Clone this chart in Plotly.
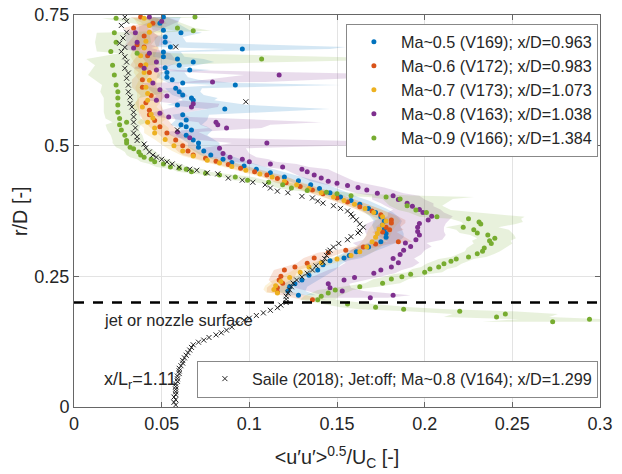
import plotly.graph_objects as go

# ---------------- data (r/D, u_rms/Uc, band below, band above) ----------------
ma05 = [
    (0.746, 0.051, 0.006, 0.010), (0.734, 0.049, 0.006, 0.010), (0.721, 0.051, 0.006, 0.015),
    (0.716, 0.061, 0.008, 0.012), (0.708, 0.052, 0.006, 0.010), (0.698, 0.052, 0.006, 0.012),
    (0.689, 0.055, 0.008, 0.100), (0.685, 0.096, 0.010, 0.050), (0.679, 0.051, 0.006, 0.010),
    (0.670, 0.051, 0.006, 0.012), (0.666, 0.059, 0.006, 0.015), (0.660, 0.068, 0.008, 0.012),
    (0.654, 0.060, 0.006, 0.010), (0.649, 0.052, 0.005, 0.010), (0.645, 0.066, 0.008, 0.012),
    (0.640, 0.053, 0.005, 0.010), (0.631, 0.053, 0.006, 0.012), (0.626, 0.056, 0.006, 0.015),
    (0.620, 0.062, 0.008, 0.030), (0.616, 0.092, 0.010, 0.060), (0.610, 0.058, 0.006, 0.015),
    (0.603, 0.060, 0.006, 0.012), (0.597, 0.062, 0.006, 0.012), (0.591, 0.067, 0.006, 0.015),
    (0.587, 0.068, 0.006, 0.012), (0.578, 0.059, 0.006, 0.040), (0.570, 0.086, 0.010, 0.060),
    (0.559, 0.062, 0.006, 0.015), (0.549, 0.064, 0.006, 0.012), (0.540, 0.061, 0.006, 0.012),
    (0.536, 0.064, 0.006, 0.012), (0.530, 0.067, 0.006, 0.012), (0.520, 0.064, 0.006, 0.012),
    (0.511, 0.068, 0.006, 0.012), (0.505, 0.071, 0.006, 0.012), (0.497, 0.071, 0.006, 0.012),
    (0.490, 0.074, 0.006, 0.010), (0.482, 0.078, 0.006, 0.010), (0.474, 0.085, 0.006, 0.010),
    (0.468, 0.090, 0.006, 0.010), (0.461, 0.097, 0.006, 0.010), (0.455, 0.104, 0.006, 0.010),
    (0.448, 0.112, 0.006, 0.010), (0.440, 0.120, 0.006, 0.010), (0.433, 0.128, 0.006, 0.010),
    (0.425, 0.135, 0.006, 0.010), (0.418, 0.140, 0.006, 0.010), (0.410, 0.146, 0.006, 0.010),
    (0.402, 0.152, 0.006, 0.010), (0.395, 0.158, 0.006, 0.010), (0.388, 0.163, 0.006, 0.010),
    (0.380, 0.168, 0.006, 0.010), (0.372, 0.172, 0.006, 0.010), (0.364, 0.175, 0.006, 0.010),
    (0.356, 0.177, 0.006, 0.010), (0.348, 0.176, 0.006, 0.010), (0.340, 0.177, 0.006, 0.010),
    (0.332, 0.178, 0.006, 0.010), (0.325, 0.178, 0.006, 0.010), (0.316, 0.175, 0.006, 0.010),
    (0.306, 0.168, 0.006, 0.010), (0.297, 0.161, 0.006, 0.010), (0.290, 0.157, 0.006, 0.010),
    (0.285, 0.154, 0.006, 0.010), (0.280, 0.146, 0.006, 0.010), (0.272, 0.142, 0.006, 0.010),
    (0.262, 0.139, 0.006, 0.010), (0.252, 0.134, 0.006, 0.010), (0.243, 0.130, 0.006, 0.010),
    (0.236, 0.126, 0.006, 0.010), (0.230, 0.123, 0.006, 0.010), (0.222, 0.122, 0.006, 0.010),
    (0.214, 0.128, 0.006, 0.010),
]

ma06 = [
    (0.746, 0.038, 0.006, 0.008), (0.734, 0.045, 0.006, 0.008), (0.725, 0.034, 0.006, 0.008),
    (0.710, 0.040, 0.006, 0.008), (0.693, 0.036, 0.006, 0.008), (0.689, 0.040, 0.006, 0.008),
    (0.672, 0.042, 0.006, 0.008), (0.654, 0.038, 0.006, 0.008), (0.640, 0.043, 0.006, 0.008),
    (0.626, 0.039, 0.006, 0.008), (0.612, 0.039, 0.006, 0.008), (0.596, 0.044, 0.006, 0.008),
    (0.582, 0.041, 0.006, 0.008), (0.568, 0.043, 0.006, 0.008), (0.559, 0.043, 0.006, 0.008),
    (0.548, 0.046, 0.006, 0.008), (0.536, 0.049, 0.006, 0.008), (0.524, 0.053, 0.006, 0.008),
    (0.511, 0.058, 0.006, 0.008), (0.500, 0.062, 0.006, 0.008), (0.490, 0.065, 0.006, 0.008),
    (0.482, 0.068, 0.006, 0.008), (0.476, 0.075, 0.006, 0.008), (0.470, 0.081, 0.006, 0.008),
    (0.464, 0.088, 0.006, 0.008), (0.457, 0.095, 0.006, 0.008), (0.450, 0.103, 0.006, 0.008),
    (0.444, 0.110, 0.006, 0.008), (0.437, 0.116, 0.006, 0.008), (0.429, 0.121, 0.006, 0.008),
    (0.422, 0.129, 0.006, 0.008), (0.415, 0.136, 0.006, 0.008), (0.408, 0.142, 0.006, 0.008),
    (0.400, 0.150, 0.006, 0.008), (0.392, 0.156, 0.006, 0.008), (0.383, 0.163, 0.006, 0.008),
    (0.375, 0.170, 0.006, 0.008), (0.368, 0.175, 0.006, 0.008), (0.358, 0.181, 0.006, 0.008),
    (0.352, 0.181, 0.006, 0.008), (0.344, 0.178, 0.006, 0.008), (0.339, 0.180, 0.006, 0.008),
    (0.335, 0.176, 0.006, 0.008), (0.316, 0.185, 0.006, 0.008), (0.312, 0.172, 0.006, 0.008),
    (0.306, 0.165, 0.006, 0.008), (0.300, 0.155, 0.006, 0.008), (0.295, 0.145, 0.006, 0.008),
    (0.285, 0.137, 0.006, 0.008), (0.275, 0.133, 0.006, 0.008), (0.268, 0.126, 0.006, 0.008),
    (0.262, 0.120, 0.006, 0.008), (0.250, 0.118, 0.006, 0.008), (0.243, 0.117, 0.006, 0.008),
    (0.237, 0.119, 0.006, 0.008), (0.228, 0.116, 0.006, 0.008), (0.220, 0.116, 0.006, 0.008),
    (0.205, 0.136, 0.006, 0.008),
]

ma07 = [
    (0.744, 0.040, 0.006, 0.008), (0.730, 0.043, 0.006, 0.008), (0.717, 0.043, 0.006, 0.008),
    (0.700, 0.041, 0.006, 0.008), (0.687, 0.040, 0.006, 0.008), (0.672, 0.038, 0.006, 0.008),
    (0.655, 0.041, 0.006, 0.008), (0.640, 0.040, 0.006, 0.008), (0.625, 0.043, 0.006, 0.008),
    (0.612, 0.041, 0.006, 0.008), (0.600, 0.042, 0.006, 0.008), (0.587, 0.042, 0.006, 0.008),
    (0.574, 0.039, 0.006, 0.008), (0.560, 0.044, 0.006, 0.008), (0.553, 0.045, 0.006, 0.008),
    (0.545, 0.042, 0.006, 0.008), (0.534, 0.046, 0.006, 0.008), (0.524, 0.046, 0.006, 0.008),
    (0.512, 0.052, 0.006, 0.008), (0.500, 0.057, 0.006, 0.008), (0.490, 0.062, 0.006, 0.008),
    (0.480, 0.068, 0.006, 0.008), (0.472, 0.076, 0.006, 0.008), (0.467, 0.083, 0.006, 0.008),
    (0.460, 0.090, 0.006, 0.008), (0.453, 0.098, 0.006, 0.008), (0.446, 0.106, 0.006, 0.008),
    (0.440, 0.113, 0.006, 0.008), (0.432, 0.120, 0.006, 0.008), (0.425, 0.127, 0.006, 0.008),
    (0.418, 0.134, 0.006, 0.008), (0.410, 0.141, 0.006, 0.008), (0.402, 0.148, 0.006, 0.008),
    (0.395, 0.154, 0.006, 0.008), (0.388, 0.160, 0.006, 0.008), (0.380, 0.166, 0.006, 0.008),
    (0.372, 0.171, 0.006, 0.008), (0.364, 0.176, 0.006, 0.008), (0.356, 0.178, 0.006, 0.008),
    (0.348, 0.176, 0.006, 0.008), (0.340, 0.174, 0.006, 0.008), (0.332, 0.173, 0.006, 0.008),
    (0.325, 0.172, 0.006, 0.008), (0.316, 0.170, 0.006, 0.008), (0.306, 0.167, 0.006, 0.008),
    (0.297, 0.163, 0.006, 0.008), (0.290, 0.158, 0.006, 0.008), (0.283, 0.150, 0.006, 0.008),
    (0.276, 0.141, 0.006, 0.008), (0.268, 0.134, 0.006, 0.008), (0.258, 0.129, 0.006, 0.008),
    (0.248, 0.123, 0.006, 0.008), (0.240, 0.118, 0.006, 0.008), (0.232, 0.115, 0.006, 0.008),
    (0.225, 0.114, 0.006, 0.008), (0.218, 0.116, 0.006, 0.008),
]

ma08 = [
    (0.746, 0.043, 0.006, 0.010), (0.738, 0.050, 0.006, 0.010), (0.716, 0.035, 0.006, 0.010),
    (0.698, 0.036, 0.006, 0.020), (0.687, 0.034, 0.006, 0.010), (0.677, 0.043, 0.006, 0.012),
    (0.660, 0.047, 0.006, 0.012), (0.648, 0.040, 0.006, 0.012), (0.645, 0.047, 0.006, 0.012),
    (0.635, 0.117, 0.020, 0.085), (0.622, 0.079, 0.015, 0.030), (0.620, 0.045, 0.006, 0.015),
    (0.607, 0.049, 0.006, 0.012), (0.595, 0.053, 0.006, 0.012), (0.587, 0.047, 0.006, 0.012),
    (0.580, 0.068, 0.010, 0.015), (0.574, 0.067, 0.010, 0.015), (0.562, 0.049, 0.006, 0.012),
    (0.555, 0.054, 0.006, 0.012), (0.545, 0.081, 0.010, 0.060), (0.540, 0.082, 0.010, 0.030),
    (0.534, 0.087, 0.010, 0.020), (0.526, 0.059, 0.008, 0.012), (0.515, 0.066, 0.008, 0.012),
    (0.505, 0.110, 0.020, 0.100), (0.495, 0.083, 0.010, 0.015), (0.485, 0.085, 0.010, 0.015),
    (0.478, 0.089, 0.010, 0.015), (0.474, 0.096, 0.010, 0.015), (0.469, 0.100, 0.010, 0.015),
    (0.465, 0.112, 0.010, 0.015), (0.459, 0.119, 0.010, 0.015), (0.455, 0.130, 0.010, 0.015),
    (0.450, 0.133, 0.010, 0.015), (0.444, 0.137, 0.010, 0.015), (0.438, 0.141, 0.010, 0.015),
    (0.432, 0.145, 0.010, 0.015), (0.428, 0.150, 0.010, 0.015), (0.424, 0.156, 0.010, 0.015),
    (0.420, 0.162, 0.012, 0.015), (0.415, 0.167, 0.012, 0.015), (0.409, 0.173, 0.012, 0.015),
    (0.404, 0.182, 0.012, 0.015), (0.397, 0.185, 0.015, 0.015), (0.390, 0.190, 0.015, 0.015),
    (0.384, 0.193, 0.015, 0.012), (0.378, 0.197, 0.015, 0.012), (0.372, 0.199, 0.020, 0.012),
    (0.365, 0.204, 0.025, 0.012), (0.358, 0.202, 0.030, 0.012), (0.351, 0.197, 0.030, 0.015),
    (0.344, 0.196, 0.030, 0.015), (0.336, 0.196, 0.030, 0.015), (0.329, 0.197, 0.030, 0.015),
    (0.320, 0.195, 0.030, 0.015), (0.314, 0.189, 0.030, 0.012), (0.307, 0.192, 0.030, 0.012),
    (0.300, 0.188, 0.030, 0.012), (0.292, 0.186, 0.030, 0.012), (0.284, 0.182, 0.030, 0.012),
    (0.276, 0.185, 0.030, 0.012), (0.268, 0.181, 0.030, 0.012), (0.262, 0.175, 0.030, 0.012),
    (0.256, 0.171, 0.030, 0.012), (0.248, 0.160, 0.025, 0.012), (0.243, 0.154, 0.025, 0.012),
    (0.236, 0.145, 0.020, 0.012), (0.228, 0.146, 0.020, 0.012), (0.222, 0.153, 0.020, 0.012),
    (0.214, 0.182, 0.040, 0.010), (0.209, 0.169, 0.030, 0.010),
]

ma09 = [
    (0.746, 0.069, 0.010, 0.010), (0.744, 0.024, 0.008, 0.030), (0.725, 0.059, 0.010, 0.010),
    (0.720, 0.068, 0.010, 0.010), (0.716, 0.023, 0.010, 0.020), (0.698, 0.024, 0.012, 0.020),
    (0.680, 0.021, 0.008, 0.015), (0.677, 0.036, 0.010, 0.020), (0.666, 0.107, 0.100, 0.090),
    (0.654, 0.022, 0.010, 0.020), (0.635, 0.023, 0.015, 0.020), (0.616, 0.024, 0.008, 0.015),
    (0.603, 0.025, 0.010, 0.030), (0.591, 0.025, 0.008, 0.012), (0.578, 0.025, 0.008, 0.012),
    (0.564, 0.025, 0.008, 0.012), (0.552, 0.026, 0.008, 0.012), (0.545, 0.030, 0.008, 0.012),
    (0.540, 0.026, 0.008, 0.012), (0.530, 0.027, 0.008, 0.010), (0.520, 0.029, 0.008, 0.010),
    (0.510, 0.030, 0.008, 0.010), (0.505, 0.030, 0.008, 0.010), (0.497, 0.032, 0.008, 0.010),
    (0.494, 0.034, 0.008, 0.010), (0.488, 0.037, 0.008, 0.010), (0.482, 0.038, 0.008, 0.010),
    (0.478, 0.040, 0.008, 0.010), (0.474, 0.044, 0.008, 0.010), (0.469, 0.046, 0.008, 0.010),
    (0.465, 0.051, 0.008, 0.010), (0.459, 0.055, 0.008, 0.010), (0.457, 0.060, 0.008, 0.010),
    (0.455, 0.064, 0.008, 0.010), (0.450, 0.067, 0.008, 0.010), (0.447, 0.075, 0.008, 0.010),
    (0.444, 0.083, 0.008, 0.010), (0.440, 0.092, 0.008, 0.010), (0.434, 0.099, 0.008, 0.010),
    (0.430, 0.111, 0.008, 0.010), (0.425, 0.119, 0.008, 0.010), (0.419, 0.124, 0.008, 0.010),
    (0.414, 0.133, 0.008, 0.010), (0.411, 0.144, 0.008, 0.010), (0.408, 0.150, 0.008, 0.015),
    (0.404, 0.158, 0.008, 0.040), (0.402, 0.178, 0.010, 0.050), (0.398, 0.186, 0.010, 0.030),
    (0.385, 0.190, 0.010, 0.020), (0.377, 0.195, 0.010, 0.020), (0.372, 0.201, 0.010, 0.030),
    (0.364, 0.207, 0.010, 0.050), (0.360, 0.225, 0.010, 0.030), (0.354, 0.231, 0.010, 0.025),
    (0.350, 0.232, 0.010, 0.020), (0.344, 0.222, 0.010, 0.020), (0.339, 0.228, 0.010, 0.020),
    (0.333, 0.230, 0.010, 0.020), (0.329, 0.236, 0.010, 0.015), (0.323, 0.240, 0.010, 0.012),
    (0.318, 0.237, 0.010, 0.012), (0.313, 0.238, 0.010, 0.012), (0.304, 0.234, 0.010, 0.012),
    (0.298, 0.233, 0.010, 0.010), (0.293, 0.230, 0.010, 0.010), (0.287, 0.225, 0.010, 0.010),
    (0.283, 0.218, 0.010, 0.010), (0.279, 0.215, 0.010, 0.010), (0.274, 0.211, 0.010, 0.010),
    (0.268, 0.208, 0.010, 0.010), (0.264, 0.203, 0.010, 0.010), (0.258, 0.200, 0.010, 0.010),
    (0.254, 0.192, 0.010, 0.010), (0.249, 0.187, 0.010, 0.010), (0.245, 0.181, 0.010, 0.010),
    (0.237, 0.176, 0.010, 0.010), (0.230, 0.163, 0.010, 0.010), (0.224, 0.149, 0.010, 0.010),
    (0.218, 0.145, 0.010, 0.010), (0.212, 0.141, 0.010, 0.010), (0.205, 0.139, 0.010, 0.010),
    (0.197, 0.156, 0.015, 0.015), (0.191, 0.172, 0.020, 0.020), (0.187, 0.188, 0.025, 0.025),
    (0.183, 0.220, 0.030, 0.030), (0.178, 0.246, 0.030, 0.030), (0.172, 0.241, 0.030, 0.030),
    (0.168, 0.294, 0.040, 0.010), (0.163, 0.273, 0.040, 0.030),
]

saile = [
    (0.746, 0.029), (0.738, 0.030), (0.730, 0.027), (0.717, 0.030), (0.706, 0.028),
    (0.696, 0.026), (0.689, 0.058), (0.688, 0.029), (0.680, 0.027), (0.670, 0.029),
    (0.660, 0.030), (0.648, 0.029), (0.639, 0.031), (0.629, 0.030), (0.616, 0.031),
    (0.603, 0.031), (0.593, 0.032), (0.584, 0.098), (0.581, 0.032), (0.574, 0.033),
    (0.564, 0.034), (0.555, 0.034), (0.545, 0.034), (0.534, 0.035), (0.530, 0.059),
    (0.524, 0.034), (0.517, 0.036), (0.510, 0.036), (0.503, 0.040), (0.496, 0.041),
    (0.488, 0.043), (0.482, 0.045), (0.478, 0.047), (0.474, 0.050), (0.469, 0.053),
    (0.465, 0.056), (0.459, 0.060), (0.455, 0.066), (0.453, 0.070), (0.448, 0.076),
    (0.446, 0.082), (0.438, 0.088), (0.434, 0.096), (0.430, 0.102), (0.425, 0.109),
    (0.419, 0.112), (0.413, 0.116), (0.410, 0.122), (0.403, 0.130), (0.400, 0.136),
    (0.394, 0.139), (0.390, 0.142), (0.385, 0.148), (0.380, 0.152), (0.375, 0.156),
    (0.369, 0.158), (0.364, 0.159), (0.358, 0.161), (0.350, 0.163), (0.344, 0.165),
    (0.337, 0.163), (0.333, 0.162), (0.326, 0.158), (0.320, 0.156), (0.313, 0.151),
    (0.306, 0.148), (0.300, 0.146), (0.297, 0.145), (0.290, 0.144), (0.284, 0.143),
    (0.277, 0.142), (0.270, 0.138), (0.262, 0.136), (0.256, 0.133), (0.249, 0.130),
    (0.243, 0.127), (0.237, 0.125), (0.230, 0.124), (0.224, 0.123), (0.218, 0.122),
    (0.212, 0.121), (0.206, 0.121), (0.200, 0.121), (0.195, 0.118), (0.190, 0.116),
    (0.185, 0.112), (0.180, 0.108), (0.175, 0.104), (0.170, 0.100), (0.166, 0.097),
    (0.160, 0.093), (0.153, 0.090), (0.147, 0.087), (0.142, 0.084), (0.138, 0.081),
    (0.133, 0.077), (0.128, 0.074), (0.124, 0.071), (0.119, 0.068), (0.114, 0.067),
    (0.109, 0.066), (0.104, 0.065), (0.099, 0.064), (0.094, 0.063), (0.089, 0.062),
    (0.084, 0.062), (0.079, 0.061), (0.074, 0.060), (0.069, 0.060), (0.064, 0.060),
    (0.059, 0.059), (0.054, 0.059), (0.049, 0.059), (0.044, 0.058), (0.039, 0.058),
    (0.034, 0.058), (0.029, 0.058), (0.024, 0.058), (0.019, 0.057), (0.014, 0.058),
    (0.009, 0.057), (0.004, 0.058),
]

series_names = [
    "Ma~0.5 (V169); x/D=0.963",
    "Ma~0.6 (V172); x/D=0.983",
    "Ma~0.7 (V173); x/D=1.073",
    "Ma~0.8 (V163); x/D=1.038",
    "Ma~0.9 (V166); x/D=1.384",
]
saile_name = "Saile (2018); Jet:off; Ma~0.8 (V164); x/D=1.299"
series_colors = [(0, 114, 189), (217, 83, 25), (237, 177, 32), (126, 47, 142), (119, 172, 48)]
series_data = [ma05, ma06, ma07, ma08, ma09]
surface_r = 0.2
x_ticks = [0, 0.05, 0.1, 0.15, 0.2, 0.25, 0.3]
y_ticks = [0, 0.25, 0.5, 0.75]

FONT = "Arial, Liberation Sans, sans-serif"
TXT = "#262626"
fig = go.Figure()

# shaded bands
for data, (r, g, b) in zip(series_data, series_colors):
    d = sorted(data, key=lambda t: t[0])
    ys = [t[0] for t in d]
    lo = [t[1] - t[2] for t in d]
    hi = [t[1] + t[3] for t in d]
    fig.add_trace(go.Scatter(
        x=lo + hi[::-1], y=ys + ys[::-1], mode="lines", fill="toself",
        fillcolor=f"rgba({r},{g},{b},0.17)", line=dict(width=0),
        hoverinfo="skip", showlegend=False))

# points
for data, name, (r, g, b) in zip(series_data, series_names, series_colors):
    fig.add_trace(go.Scatter(
        x=[t[1] for t in data], y=[t[0] for t in data], mode="markers", name=name,
        marker=dict(size=5, color=f"rgb({r},{g},{b})"), legend="legend"))

fig.add_trace(go.Scatter(
    x=[t[1] for t in saile], y=[t[0] for t in saile], mode="markers", name=saile_name,
    marker=dict(symbol="x-thin", size=5, line=dict(width=1, color="#222")),
    legend="legend2"))

fig.add_shape(type="line", xref="x", yref="y", x0=x_ticks[0], x1=x_ticks[-1],
              y0=surface_r, y1=surface_r, line=dict(color="black", width=2.6, dash="10px,9px"),
              layer="above")

fig.add_annotation(x=0.016, y=0.166, xref="x", yref="y", text="jet or nozzle surface",
                   showarrow=False, xanchor="left", yanchor="middle",
                   font=dict(family=FONT, size=16.5, color=TXT))
fig.add_annotation(x=0.016, y=0.05, xref="x", yref="y", text="x/L<sub>r</sub>=1.11",
                   showarrow=False, xanchor="left", yanchor="middle",
                   font=dict(family=FONT, size=18, color=TXT))
# y-axis title
fig.add_annotation(x=-0.1027, y=0.5, xref="paper", yref="paper", text="r/D [-]",
                   textangle=-90, showarrow=False, xanchor="center", yanchor="middle",
                   font=dict(family=FONT, size=19.8, color=TXT))

axis_common = dict(showgrid=True, gridcolor="#e3e3e3", gridwidth=1, zeroline=False,
                   showline=True, linecolor="#666", linewidth=1, mirror="ticks",
                   ticks="inside", ticklen=5, tickcolor="#666", automargin=False,
                   tickfont=dict(family=FONT, size=18, color=TXT))

fig.update_layout(
    width=622, height=474, margin=dict(l=74, r=22, t=15, b=67, autoexpand=False),
    paper_bgcolor="white", plot_bgcolor="white",
    xaxis=dict(range=[0, 0.3], tickvals=x_ticks, ticktext=[f"{v:g}" for v in x_ticks],
               title=dict(text="&lt;u′u′&gt;<sup>0.5</sup>/U<sub>C</sub> [-]",
                          font=dict(family=FONT, size=19.8, color=TXT), standoff=17),
               **axis_common),
    yaxis=dict(range=[0, 0.75], tickvals=y_ticks, ticktext=[f"{v:g}" for v in y_ticks],
               **axis_common),
    legend=dict(x=0.996, y=0.978, xanchor="right", yanchor="top", bgcolor="white",
                bordercolor="#888", borderwidth=1, itemwidth=44,
                font=dict(family=FONT, size=16.2, color=TXT)),
    legend2=dict(x=0.996, y=0.024, xanchor="right", yanchor="bottom", bgcolor="white",
                 bordercolor="#888", borderwidth=1, itemwidth=44,
                 font=dict(family=FONT, size=16.2, color=TXT)),
    showlegend=True,
)

fig.write_html("out.html")
